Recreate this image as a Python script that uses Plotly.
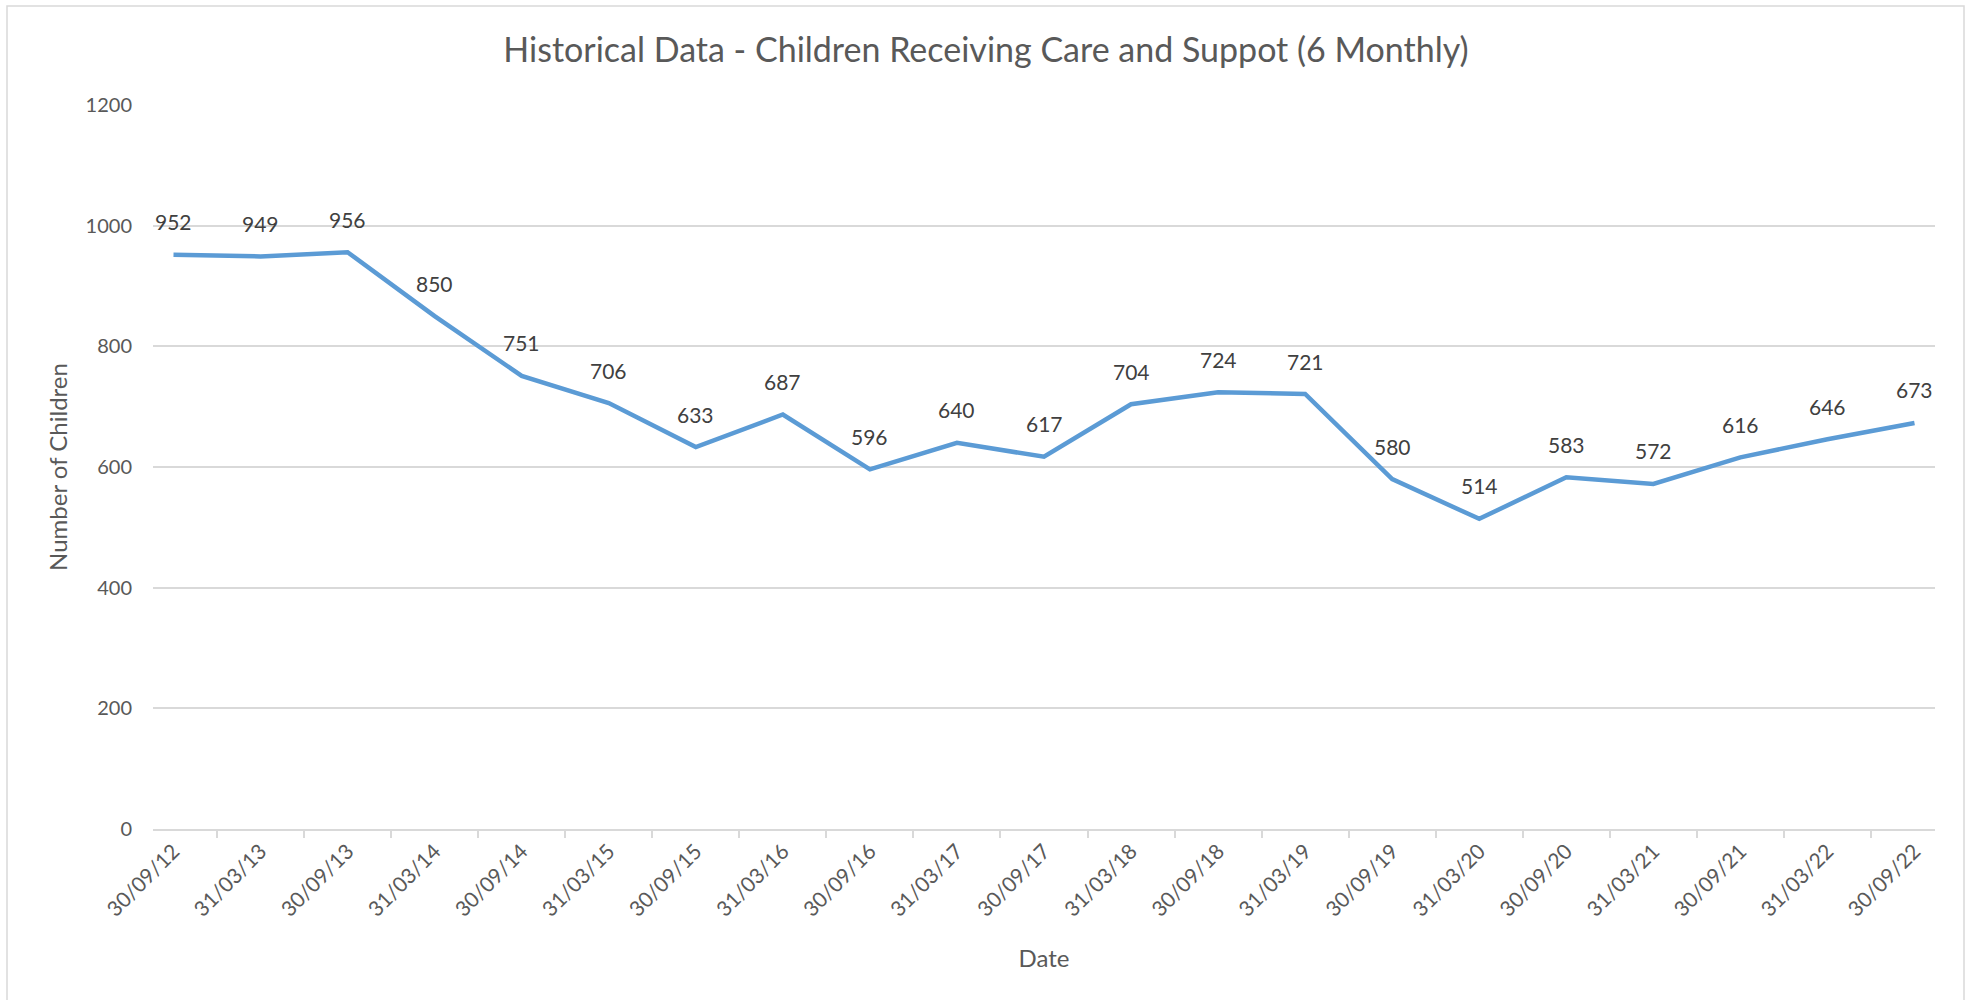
import plotly.graph_objects as go

# half-yearly snapshot dates and counts
dates = [
    "30/09/12", "31/03/13", "30/09/13", "31/03/14", "30/09/14", "31/03/15",
    "30/09/15", "31/03/16", "30/09/16", "31/03/17", "30/09/17", "31/03/18",
    "30/09/18", "31/03/19", "30/09/19", "31/03/20", "30/09/20", "31/03/21",
    "30/09/21", "31/03/22", "30/09/22",
]
children = [
    952, 949, 956, 850, 751, 706, 633, 687, 596, 640, 617, 704,
    724, 721, 580, 514, 583, 572, 616, 646, 673,
]
y_ticks = [0, 200, 400, 600, 800, 1000, 1200]

W, H = 1968, 1000
ML, MR, MT, MB = 153, 33, 105, 171
FONT = "Lato, Carlito, Calibri, sans-serif"
GREY = "#595959"
GRID = "#D9D9D9"

fig = go.Figure()
fig.add_trace(
    go.Scatter(
        x=dates,
        y=children,
        mode="lines",
        line=dict(color="#5B9BD5", width=4.5),
        hoverinfo="x+y",
    )
)

# data labels above each point
for d, v in zip(dates, children):
    fig.add_annotation(
        x=d, y=v, text=str(v), showarrow=False,
        yshift=33, font=dict(family=FONT, size=21, color="#404040"),
    )

# outer chart border, like an Excel chart area (bottom edge falls off the page)
pw, ph = W - ML - MR, H - MT - MB
fig.add_shape(
    type="rect", xref="paper", yref="paper",
    x0=(7 - ML) / pw, x1=(1964 - ML) / pw,
    y0=-(1010 - MT - ph) / ph, y1=1 + (MT - 6) / ph,
    line=dict(color=GRID, width=1.5), layer="below",
)

fig.update_layout(
    width=W,
    height=H,
    margin=dict(l=ML, r=MR, t=MT, b=MB),
    paper_bgcolor="white",
    plot_bgcolor="white",
    showlegend=False,
    font=dict(family=FONT, color=GREY),
    title=dict(
        text="Historical Data - Children Receiving Care and Suppot (6 Monthly)",
        x=986 / W, xanchor="center", y=1 - 50 / H, yanchor="middle",
        font=dict(family=FONT, size=34, color=GREY),
    ),
)
fig.update_xaxes(
    type="category",
    tickson="boundaries",
    ticks="outside",
    ticklen=7,
    tickwidth=1.5,
    tickcolor=GRID,
    showline=True,
    linecolor=GRID,
    linewidth=1.5,
    showgrid=False,
    tickangle=-45,
    tickfont=dict(size=21, color=GREY),
    title=dict(text="Date", font=dict(size=24, color=GREY), standoff=30),
    automargin=False,
)
fig.update_yaxes(
    range=[0, 1200],
    tickvals=y_ticks,
    showgrid=True,
    gridcolor=GRID,
    gridwidth=1.5,
    zeroline=False,
    showline=False,
    ticks="",
    ticklabelstandoff=20,
    tickfont=dict(size=20, color=GREY),
    title=dict(text="Number of Children", font=dict(size=24, color=GREY), standoff=11),
    automargin=False,
)

# drop the default 8px body margin so the figure sits flush in the window
fig.write_html(
    "out.html",
    config={"displayModeBar": False},
    post_script="document.body.style.margin='0px';",
)
